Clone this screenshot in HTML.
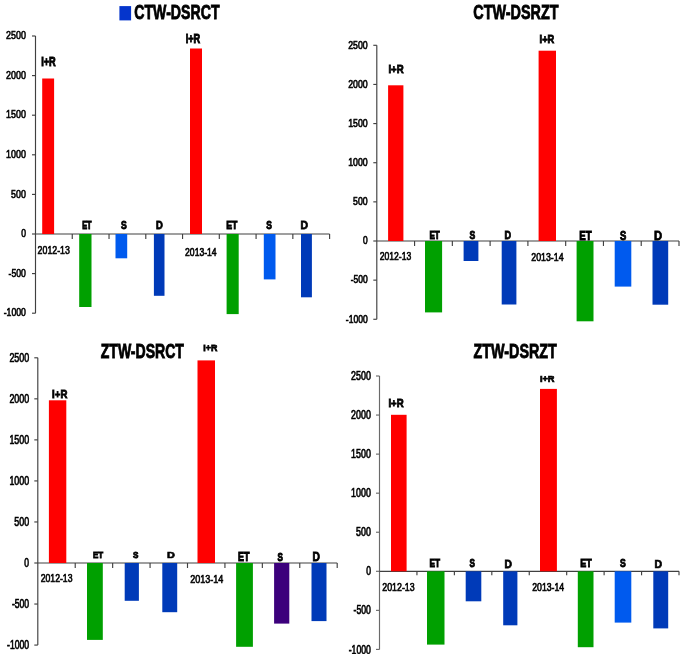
<!DOCTYPE html>
<html><head><meta charset="utf-8"><style>
html,body{margin:0;padding:0;background:#fff;width:685px;height:654px;overflow:hidden}
svg{display:block;font-family:"Liberation Sans",sans-serif;filter:blur(0.45px)}
</style></head><body>
<svg width="685" height="654" viewBox="0 0 685 654">
<line x1="35.50" y1="36.00" x2="35.50" y2="313.20" stroke="#404040" stroke-width="1.15"/>
<line x1="32.00" y1="313.20" x2="35.50" y2="313.20" stroke="#404040" stroke-width="1.15"/>
<line x1="32.00" y1="273.60" x2="35.50" y2="273.60" stroke="#404040" stroke-width="1.15"/>
<line x1="32.00" y1="234.00" x2="35.50" y2="234.00" stroke="#404040" stroke-width="1.15"/>
<line x1="32.00" y1="194.40" x2="35.50" y2="194.40" stroke="#404040" stroke-width="1.15"/>
<line x1="32.00" y1="154.80" x2="35.50" y2="154.80" stroke="#404040" stroke-width="1.15"/>
<line x1="32.00" y1="115.20" x2="35.50" y2="115.20" stroke="#404040" stroke-width="1.15"/>
<line x1="32.00" y1="75.60" x2="35.50" y2="75.60" stroke="#404040" stroke-width="1.15"/>
<line x1="32.00" y1="36.00" x2="35.50" y2="36.00" stroke="#404040" stroke-width="1.15"/>
<line x1="35.50" y1="234.00" x2="329.60" y2="234.00" stroke="#404040" stroke-width="1.15"/>
<line x1="72.26" y1="234.00" x2="72.26" y2="239.00" stroke="#404040" stroke-width="1.15"/>
<line x1="109.03" y1="234.00" x2="109.03" y2="239.00" stroke="#404040" stroke-width="1.15"/>
<line x1="145.79" y1="234.00" x2="145.79" y2="239.00" stroke="#404040" stroke-width="1.15"/>
<line x1="182.55" y1="234.00" x2="182.55" y2="239.00" stroke="#404040" stroke-width="1.15"/>
<line x1="219.31" y1="234.00" x2="219.31" y2="239.00" stroke="#404040" stroke-width="1.15"/>
<line x1="256.08" y1="234.00" x2="256.08" y2="239.00" stroke="#404040" stroke-width="1.15"/>
<line x1="292.84" y1="234.00" x2="292.84" y2="239.00" stroke="#404040" stroke-width="1.15"/>
<line x1="329.60" y1="234.00" x2="329.60" y2="239.00" stroke="#404040" stroke-width="1.15"/>
<text transform="translate(3.68,316.43) scale(0.783,1)" font-size="11.10" font-weight="400" fill="#000" stroke="#000" stroke-width="0.639">-1000</text>
<text transform="translate(8.60,276.83) scale(0.780,1)" font-size="11.10" font-weight="400" fill="#000" stroke="#000" stroke-width="0.641">-500</text>
<text transform="translate(21.13,237.23) scale(0.770,1)" font-size="11.09" font-weight="400" fill="#000" stroke="#000" stroke-width="0.649">0</text>
<text transform="translate(11.06,197.63) scale(0.801,1)" font-size="11.11" font-weight="400" fill="#000" stroke="#000" stroke-width="0.624">500</text>
<text transform="translate(6.08,158.03) scale(0.805,1)" font-size="11.11" font-weight="400" fill="#000" stroke="#000" stroke-width="0.621">1000</text>
<text transform="translate(6.08,118.43) scale(0.805,1)" font-size="11.11" font-weight="400" fill="#000" stroke="#000" stroke-width="0.621">1500</text>
<text transform="translate(6.08,78.83) scale(0.805,1)" font-size="11.11" font-weight="400" fill="#000" stroke="#000" stroke-width="0.621">2000</text>
<text transform="translate(6.08,39.23) scale(0.805,1)" font-size="11.11" font-weight="400" fill="#000" stroke="#000" stroke-width="0.621">2500</text>
<rect x="42.20" y="78.50" width="11.90" height="155.50" fill="#ff0000"/>
<rect x="79.20" y="234.00" width="12.30" height="73.00" fill="#00a000"/>
<rect x="115.50" y="234.00" width="11.70" height="24.30" fill="#005aee"/>
<rect x="153.90" y="234.00" width="10.60" height="61.80" fill="#003ab8"/>
<rect x="190.00" y="48.50" width="12.00" height="185.50" fill="#ff0000"/>
<rect x="226.60" y="234.00" width="12.10" height="80.10" fill="#00a000"/>
<rect x="263.80" y="234.00" width="11.70" height="45.40" fill="#005aee"/>
<rect x="301.00" y="234.00" width="10.90" height="63.30" fill="#003ab8"/>
<text transform="translate(41.13,65.66) scale(0.730,1)" font-size="12.64" font-weight="700" fill="#000" stroke="#000" stroke-width="0.959">I+R</text>
<text transform="translate(82.16,228.75) scale(0.688,1)" font-size="10.71" font-weight="700" fill="#000" stroke="#000" stroke-width="1.017">ET</text>
<text transform="translate(120.92,228.68) scale(0.816,1)" font-size="10.52" font-weight="700" fill="#000" stroke="#000" stroke-width="0.858">S</text>
<text transform="translate(156.12,228.80) scale(0.868,1)" font-size="10.86" font-weight="700" fill="#000" stroke="#000" stroke-width="0.807">D</text>
<text transform="translate(37.58,254.34) scale(0.824,1)" font-size="10.70" font-weight="400" fill="#000" stroke="#000" stroke-width="0.607">2012-13</text>
<text transform="translate(185.73,42.76) scale(0.741,1)" font-size="12.36" font-weight="700" fill="#000" stroke="#000" stroke-width="0.944">I+R</text>
<text transform="translate(185.09,255.51) scale(0.732,1)" font-size="11.77" font-weight="400" fill="#000" stroke="#000" stroke-width="0.683">2013-14</text>
<text transform="translate(226.16,229.08) scale(0.782,1)" font-size="11.24" font-weight="700" fill="#000" stroke="#000" stroke-width="0.895">ET</text>
<text transform="translate(266.22,228.96) scale(0.771,1)" font-size="10.91" font-weight="700" fill="#000" stroke="#000" stroke-width="0.907">S</text>
<text transform="translate(300.45,229.11) scale(0.919,1)" font-size="11.33" font-weight="700" fill="#000" stroke="#000" stroke-width="0.762">D</text>
<text transform="translate(134.28,19.00) scale(0.723,1)" font-size="19.56" font-weight="700" fill="#000" stroke="#000" stroke-width="0.829">CTW-DSRCT</text>
<line x1="376.80" y1="45.30" x2="376.80" y2="319.28" stroke="#404040" stroke-width="1.15"/>
<line x1="373.30" y1="319.28" x2="376.80" y2="319.28" stroke="#404040" stroke-width="1.15"/>
<line x1="373.30" y1="280.14" x2="376.80" y2="280.14" stroke="#404040" stroke-width="1.15"/>
<line x1="373.30" y1="241.00" x2="376.80" y2="241.00" stroke="#404040" stroke-width="1.15"/>
<line x1="373.30" y1="201.86" x2="376.80" y2="201.86" stroke="#404040" stroke-width="1.15"/>
<line x1="373.30" y1="162.72" x2="376.80" y2="162.72" stroke="#404040" stroke-width="1.15"/>
<line x1="373.30" y1="123.58" x2="376.80" y2="123.58" stroke="#404040" stroke-width="1.15"/>
<line x1="373.30" y1="84.44" x2="376.80" y2="84.44" stroke="#404040" stroke-width="1.15"/>
<line x1="373.30" y1="45.30" x2="376.80" y2="45.30" stroke="#404040" stroke-width="1.15"/>
<line x1="376.80" y1="241.00" x2="679.00" y2="241.00" stroke="#404040" stroke-width="1.15"/>
<line x1="414.57" y1="241.00" x2="414.57" y2="246.00" stroke="#404040" stroke-width="1.15"/>
<line x1="452.35" y1="241.00" x2="452.35" y2="246.00" stroke="#404040" stroke-width="1.15"/>
<line x1="490.12" y1="241.00" x2="490.12" y2="246.00" stroke="#404040" stroke-width="1.15"/>
<line x1="527.90" y1="241.00" x2="527.90" y2="246.00" stroke="#404040" stroke-width="1.15"/>
<line x1="565.67" y1="241.00" x2="565.67" y2="246.00" stroke="#404040" stroke-width="1.15"/>
<line x1="603.45" y1="241.00" x2="603.45" y2="246.00" stroke="#404040" stroke-width="1.15"/>
<line x1="641.23" y1="241.00" x2="641.23" y2="246.00" stroke="#404040" stroke-width="1.15"/>
<line x1="679.00" y1="241.00" x2="679.00" y2="246.00" stroke="#404040" stroke-width="1.15"/>
<text transform="translate(345.82,322.54) scale(0.727,1)" font-size="11.77" font-weight="400" fill="#000" stroke="#000" stroke-width="0.688">-1000</text>
<text transform="translate(350.67,283.40) scale(0.724,1)" font-size="11.77" font-weight="400" fill="#000" stroke="#000" stroke-width="0.690">-500</text>
<text transform="translate(363.01,244.26) scale(0.714,1)" font-size="11.76" font-weight="400" fill="#000" stroke="#000" stroke-width="0.700">0</text>
<text transform="translate(353.09,205.12) scale(0.744,1)" font-size="11.78" font-weight="400" fill="#000" stroke="#000" stroke-width="0.672">500</text>
<text transform="translate(348.19,165.98) scale(0.747,1)" font-size="11.78" font-weight="400" fill="#000" stroke="#000" stroke-width="0.669">1000</text>
<text transform="translate(348.19,126.84) scale(0.747,1)" font-size="11.78" font-weight="400" fill="#000" stroke="#000" stroke-width="0.669">1500</text>
<text transform="translate(348.18,87.70) scale(0.747,1)" font-size="11.78" font-weight="400" fill="#000" stroke="#000" stroke-width="0.669">2000</text>
<text transform="translate(348.18,48.56) scale(0.747,1)" font-size="11.78" font-weight="400" fill="#000" stroke="#000" stroke-width="0.669">2500</text>
<rect x="388.10" y="85.30" width="15.30" height="155.70" fill="#ff0000"/>
<rect x="425.00" y="241.00" width="17.10" height="71.40" fill="#00a000"/>
<rect x="463.60" y="241.00" width="14.80" height="20.00" fill="#003ab8"/>
<rect x="501.70" y="241.00" width="14.70" height="63.50" fill="#003ab8"/>
<rect x="538.60" y="50.70" width="17.40" height="190.30" fill="#ff0000"/>
<rect x="576.60" y="241.00" width="16.90" height="80.30" fill="#00a000"/>
<rect x="614.70" y="241.00" width="16.60" height="45.60" fill="#005aee"/>
<rect x="652.50" y="241.00" width="15.70" height="63.70" fill="#003ab8"/>
<text transform="translate(388.40,73.20) scale(0.885,1)" font-size="10.88" font-weight="700" fill="#000" stroke="#000" stroke-width="0.791">I+R</text>
<text transform="translate(429.41,239.17) scale(0.774,1)" font-size="10.50" font-weight="700" fill="#000" stroke="#000" stroke-width="0.905">ET</text>
<text transform="translate(469.52,239.09) scale(0.837,1)" font-size="10.26" font-weight="700" fill="#000" stroke="#000" stroke-width="0.836">S</text>
<text transform="translate(504.54,239.20) scale(0.861,1)" font-size="10.57" font-weight="700" fill="#000" stroke="#000" stroke-width="0.813">D</text>
<text transform="translate(379.69,260.34) scale(0.827,1)" font-size="10.42" font-weight="400" fill="#000" stroke="#000" stroke-width="0.605">2012-13</text>
<text transform="translate(539.62,42.68) scale(0.786,1)" font-size="11.82" font-weight="700" fill="#000" stroke="#000" stroke-width="0.890">I+R</text>
<text transform="translate(531.29,261.02) scale(0.773,1)" font-size="11.38" font-weight="400" fill="#000" stroke="#000" stroke-width="0.647">2013-14</text>
<text transform="translate(579.30,239.88) scale(0.792,1)" font-size="12.26" font-weight="700" fill="#000" stroke="#000" stroke-width="0.884">ET</text>
<text transform="translate(619.89,239.76) scale(0.791,1)" font-size="11.91" font-weight="700" fill="#000" stroke="#000" stroke-width="0.885">S</text>
<text transform="translate(653.89,239.91) scale(0.910,1)" font-size="12.34" font-weight="700" fill="#000" stroke="#000" stroke-width="0.769">D</text>
<text transform="translate(473.27,19.00) scale(0.736,1)" font-size="19.57" font-weight="700" fill="#000" stroke="#000" stroke-width="0.816">CTW-DSRZT</text>
<line x1="37.80" y1="357.80" x2="37.80" y2="645.08" stroke="#404040" stroke-width="1.15"/>
<line x1="34.30" y1="645.08" x2="37.80" y2="645.08" stroke="#404040" stroke-width="1.15"/>
<line x1="34.30" y1="604.04" x2="37.80" y2="604.04" stroke="#404040" stroke-width="1.15"/>
<line x1="34.30" y1="563.00" x2="37.80" y2="563.00" stroke="#404040" stroke-width="1.15"/>
<line x1="34.30" y1="521.96" x2="37.80" y2="521.96" stroke="#404040" stroke-width="1.15"/>
<line x1="34.30" y1="480.92" x2="37.80" y2="480.92" stroke="#404040" stroke-width="1.15"/>
<line x1="34.30" y1="439.88" x2="37.80" y2="439.88" stroke="#404040" stroke-width="1.15"/>
<line x1="34.30" y1="398.84" x2="37.80" y2="398.84" stroke="#404040" stroke-width="1.15"/>
<line x1="34.30" y1="357.80" x2="37.80" y2="357.80" stroke="#404040" stroke-width="1.15"/>
<line x1="37.80" y1="563.00" x2="337.20" y2="563.00" stroke="#404040" stroke-width="1.15"/>
<line x1="75.22" y1="563.00" x2="75.22" y2="568.00" stroke="#404040" stroke-width="1.15"/>
<line x1="112.65" y1="563.00" x2="112.65" y2="568.00" stroke="#404040" stroke-width="1.15"/>
<line x1="150.07" y1="563.00" x2="150.07" y2="568.00" stroke="#404040" stroke-width="1.15"/>
<line x1="187.50" y1="563.00" x2="187.50" y2="568.00" stroke="#404040" stroke-width="1.15"/>
<line x1="224.93" y1="563.00" x2="224.93" y2="568.00" stroke="#404040" stroke-width="1.15"/>
<line x1="262.35" y1="563.00" x2="262.35" y2="568.00" stroke="#404040" stroke-width="1.15"/>
<line x1="299.77" y1="563.00" x2="299.77" y2="568.00" stroke="#404040" stroke-width="1.15"/>
<line x1="337.20" y1="563.00" x2="337.20" y2="568.00" stroke="#404040" stroke-width="1.15"/>
<text transform="translate(7.00,649.28) scale(0.710,1)" font-size="12.18" font-weight="400" fill="#000" stroke="#000" stroke-width="0.705">-1000</text>
<text transform="translate(11.89,608.24) scale(0.707,1)" font-size="12.18" font-weight="400" fill="#000" stroke="#000" stroke-width="0.707">-500</text>
<text transform="translate(24.36,567.20) scale(0.698,1)" font-size="12.17" font-weight="400" fill="#000" stroke="#000" stroke-width="0.717">0</text>
<text transform="translate(14.34,526.17) scale(0.726,1)" font-size="12.19" font-weight="400" fill="#000" stroke="#000" stroke-width="0.688">500</text>
<text transform="translate(9.38,485.13) scale(0.729,1)" font-size="12.19" font-weight="400" fill="#000" stroke="#000" stroke-width="0.685">1000</text>
<text transform="translate(9.38,444.09) scale(0.729,1)" font-size="12.19" font-weight="400" fill="#000" stroke="#000" stroke-width="0.685">1500</text>
<text transform="translate(9.38,403.05) scale(0.730,1)" font-size="12.19" font-weight="400" fill="#000" stroke="#000" stroke-width="0.685">2000</text>
<text transform="translate(9.38,362.01) scale(0.730,1)" font-size="12.19" font-weight="400" fill="#000" stroke="#000" stroke-width="0.685">2500</text>
<rect x="48.90" y="400.30" width="17.40" height="162.70" fill="#ff0000"/>
<rect x="87.00" y="563.00" width="15.80" height="76.90" fill="#00a000"/>
<rect x="124.70" y="563.00" width="14.20" height="37.80" fill="#003ab8"/>
<rect x="162.30" y="563.00" width="14.90" height="49.20" fill="#003ab8"/>
<rect x="197.50" y="360.40" width="17.50" height="202.60" fill="#ff0000"/>
<rect x="236.10" y="563.00" width="16.80" height="83.80" fill="#00a000"/>
<rect x="274.10" y="563.00" width="15.20" height="60.60" fill="#3c007c"/>
<rect x="311.50" y="563.00" width="15.00" height="58.10" fill="#003ab8"/>
<text transform="translate(52.10,397.51) scale(0.933,1)" font-size="10.33" font-weight="700" fill="#000" stroke="#000" stroke-width="0.751">I+R</text>
<text transform="translate(92.91,557.79) scale(0.831,1)" font-size="9.68" font-weight="700" fill="#000" stroke="#000" stroke-width="0.843">ET</text>
<text transform="translate(133.03,557.70) scale(0.858,1)" font-size="9.43" font-weight="700" fill="#000" stroke="#000" stroke-width="0.816">S</text>
<text transform="translate(167.01,557.84) scale(1.109,1)" font-size="9.83" font-weight="700" fill="#000" stroke="#000" stroke-width="0.631">D</text>
<text transform="translate(40.69,582.44) scale(0.822,1)" font-size="10.56" font-weight="400" fill="#000" stroke="#000" stroke-width="0.609">2012-13</text>
<text transform="translate(203.36,351.31) scale(0.920,1)" font-size="9.59" font-weight="700" fill="#000" stroke="#000" stroke-width="0.761">I+R</text>
<text transform="translate(190.17,582.94) scale(0.813,1)" font-size="11.12" font-weight="400" fill="#000" stroke="#000" stroke-width="0.615">2013-14</text>
<text transform="translate(237.94,560.76) scale(0.740,1)" font-size="12.21" font-weight="700" fill="#000" stroke="#000" stroke-width="0.946">ET</text>
<text transform="translate(277.53,560.63) scale(0.684,1)" font-size="11.81" font-weight="700" fill="#000" stroke="#000" stroke-width="1.023">S</text>
<text transform="translate(312.56,560.79) scale(0.834,1)" font-size="12.29" font-weight="700" fill="#000" stroke="#000" stroke-width="0.840">D</text>
<text transform="translate(100.73,358.09) scale(0.709,1)" font-size="19.83" font-weight="700" fill="#000" stroke="#000" stroke-width="0.846">ZTW-DSRCT</text>
<line x1="379.50" y1="376.00" x2="379.50" y2="649.42" stroke="#6a6a6a" stroke-width="1.15"/>
<line x1="376.00" y1="649.42" x2="379.50" y2="649.42" stroke="#6a6a6a" stroke-width="1.15"/>
<line x1="376.00" y1="610.36" x2="379.50" y2="610.36" stroke="#6a6a6a" stroke-width="1.15"/>
<line x1="376.00" y1="571.30" x2="379.50" y2="571.30" stroke="#6a6a6a" stroke-width="1.15"/>
<line x1="376.00" y1="532.24" x2="379.50" y2="532.24" stroke="#6a6a6a" stroke-width="1.15"/>
<line x1="376.00" y1="493.18" x2="379.50" y2="493.18" stroke="#6a6a6a" stroke-width="1.15"/>
<line x1="376.00" y1="454.12" x2="379.50" y2="454.12" stroke="#6a6a6a" stroke-width="1.15"/>
<line x1="376.00" y1="415.06" x2="379.50" y2="415.06" stroke="#6a6a6a" stroke-width="1.15"/>
<line x1="376.00" y1="376.00" x2="379.50" y2="376.00" stroke="#6a6a6a" stroke-width="1.15"/>
<line x1="379.50" y1="571.30" x2="679.00" y2="571.30" stroke="#404040" stroke-width="1.15"/>
<line x1="416.94" y1="571.30" x2="416.94" y2="575.30" stroke="#404040" stroke-width="1.15"/>
<line x1="454.38" y1="571.30" x2="454.38" y2="575.30" stroke="#404040" stroke-width="1.15"/>
<line x1="491.81" y1="571.30" x2="491.81" y2="575.30" stroke="#404040" stroke-width="1.15"/>
<line x1="529.25" y1="571.30" x2="529.25" y2="575.30" stroke="#404040" stroke-width="1.15"/>
<line x1="566.69" y1="571.30" x2="566.69" y2="575.30" stroke="#404040" stroke-width="1.15"/>
<line x1="604.12" y1="571.30" x2="604.12" y2="575.30" stroke="#404040" stroke-width="1.15"/>
<line x1="641.56" y1="571.30" x2="641.56" y2="575.30" stroke="#404040" stroke-width="1.15"/>
<line x1="679.00" y1="571.30" x2="679.00" y2="575.30" stroke="#404040" stroke-width="1.15"/>
<text transform="translate(348.68,653.53) scale(0.729,1)" font-size="11.91" font-weight="400" fill="#000" stroke="#000" stroke-width="0.685">-1000</text>
<text transform="translate(353.60,614.47) scale(0.727,1)" font-size="11.91" font-weight="400" fill="#000" stroke="#000" stroke-width="0.688">-500</text>
<text transform="translate(366.13,575.41) scale(0.717,1)" font-size="11.90" font-weight="400" fill="#000" stroke="#000" stroke-width="0.697">0</text>
<text transform="translate(356.06,536.35) scale(0.747,1)" font-size="11.92" font-weight="400" fill="#000" stroke="#000" stroke-width="0.670">500</text>
<text transform="translate(351.08,497.29) scale(0.750,1)" font-size="11.92" font-weight="400" fill="#000" stroke="#000" stroke-width="0.667">1000</text>
<text transform="translate(351.08,458.23) scale(0.750,1)" font-size="11.92" font-weight="400" fill="#000" stroke="#000" stroke-width="0.667">1500</text>
<text transform="translate(351.08,419.17) scale(0.750,1)" font-size="11.92" font-weight="400" fill="#000" stroke="#000" stroke-width="0.667">2000</text>
<text transform="translate(351.08,380.11) scale(0.750,1)" font-size="11.92" font-weight="400" fill="#000" stroke="#000" stroke-width="0.667">2500</text>
<rect x="391.00" y="414.80" width="15.60" height="156.50" fill="#ff0000"/>
<rect x="427.00" y="571.30" width="17.50" height="73.30" fill="#00a000"/>
<rect x="465.70" y="571.30" width="15.60" height="30.00" fill="#003ab8"/>
<rect x="503.20" y="571.30" width="14.20" height="54.00" fill="#003ab8"/>
<rect x="540.00" y="388.90" width="16.90" height="182.40" fill="#ff0000"/>
<rect x="577.80" y="571.30" width="15.70" height="75.90" fill="#00a000"/>
<rect x="614.70" y="571.30" width="16.60" height="51.30" fill="#005aee"/>
<rect x="653.30" y="571.30" width="14.90" height="57.10" fill="#003ab8"/>
<text transform="translate(388.40,406.90) scale(0.874,1)" font-size="11.01" font-weight="700" fill="#000" stroke="#000" stroke-width="0.801">I+R</text>
<text transform="translate(429.39,567.47) scale(0.750,1)" font-size="11.06" font-weight="700" fill="#000" stroke="#000" stroke-width="0.934">ET</text>
<text transform="translate(469.53,567.36) scale(0.752,1)" font-size="10.75" font-weight="700" fill="#000" stroke="#000" stroke-width="0.931">S</text>
<text transform="translate(504.46,567.51) scale(0.916,1)" font-size="11.19" font-weight="700" fill="#000" stroke="#000" stroke-width="0.764">D</text>
<text transform="translate(382.28,590.74) scale(0.824,1)" font-size="10.70" font-weight="400" fill="#000" stroke="#000" stroke-width="0.607">2012-13</text>
<text transform="translate(539.93,382.42) scale(0.946,1)" font-size="9.75" font-weight="700" fill="#000" stroke="#000" stroke-width="0.740">I+R</text>
<text transform="translate(532.19,591.02) scale(0.768,1)" font-size="11.37" font-weight="400" fill="#000" stroke="#000" stroke-width="0.651">2013-14</text>
<text transform="translate(580.25,567.49) scale(0.827,1)" font-size="10.84" font-weight="700" fill="#000" stroke="#000" stroke-width="0.847">ET</text>
<text transform="translate(619.92,567.38) scale(0.816,1)" font-size="10.52" font-weight="700" fill="#000" stroke="#000" stroke-width="0.858">S</text>
<text transform="translate(654.45,567.52) scale(0.954,1)" font-size="10.92" font-weight="700" fill="#000" stroke="#000" stroke-width="0.734">D</text>
<text transform="translate(473.62,358.09) scale(0.722,1)" font-size="19.84" font-weight="700" fill="#000" stroke="#000" stroke-width="0.831">ZTW-DSRZT</text>
<rect x="119.40" y="6.10" width="11.70" height="14.30" fill="#0535cc"/>
</svg>
</body></html>
